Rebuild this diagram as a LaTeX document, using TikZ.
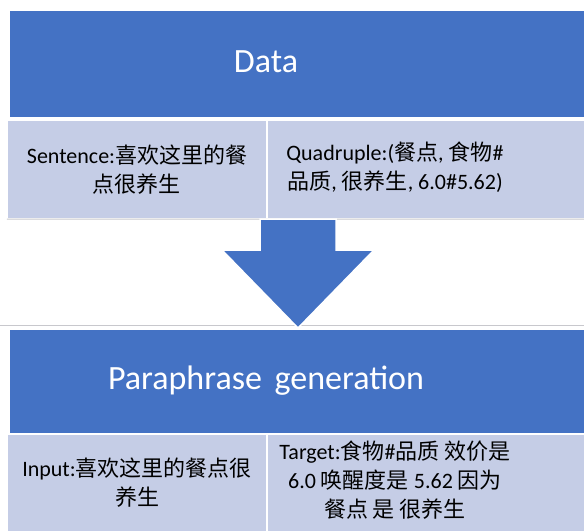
\documentclass[tikz,border=0pt]{standalone}
\usepackage{fontspec}
\setmainfont{Carlito}
\newfontfamily\cjk{Noto Sans CJK SC}
\usepackage{xcolor}
\usepackage{tikz}
\usetikzlibrary{positioning,calc}

\definecolor{headblue}{RGB}{68,114,196}
\definecolor{celllav}{RGB}{197,205,230}
\definecolor{shadowgray}{RGB}{200,200,205}
\newcommand{\zh}[1]{{\cjk #1}}
% text of the table is centred on its full width, the picture cuts it at the right
\newcommand{\wide}[2]{\makebox[#1]{\begin{tabular}{@{}c@{}}#2\end{tabular}}\kern62pt}

\begin{document}
\begin{tikzpicture}[x=1pt, y=-1pt]
  % Define styles
  \tikzstyle{header} = [rectangle, fill=headblue, text=white, inner sep=0pt, minimum width=574pt, minimum height=106pt, font=\fontsize{34}{42}\selectfont]
  \tikzstyle{cell} = [rectangle, fill=celllav, text=black, inner sep=0pt, minimum height=97pt, align=center, font=\fontsize{22}{29}\selectfont]
  \tikzstyle{shadow} = [shadowgray, line width=1pt]
  \tikzstyle{flow} = [fill=headblue, draw=white, line width=1.5pt, line join=miter]

  \useasboundingbox (0,0) rectangle (584,531);

  % Data block
  \node [header] (data) at (297,64) {\wide{512pt}{Data}};
  \node [cell, minimum width=258pt] (sentence) at (137,169.5)
    {Sentence:\zh{喜欢这里的餐}\\\zh{点很养生}};
  \node [cell, minimum width=316pt] (quadruple) at (426,169.5)
    {\wide{254pt}{Quadruple:(\zh{餐点}, \zh{食物}\#\\\zh{品质}, \zh{很养生}, 6.0\#5.62)}};
  \draw [shadow] (sentence.south west) ++(-1,1) -- (quadruple.south east |- 0,219);

  % Paraphrase generation block
  \node [header, minimum height=103pt] (paraphrase) at (297,381.5)
    {\wide{512pt}{Paraphrase\hspace{5pt} generation}};
  \node [cell, minimum width=258pt, minimum height=96pt] (input) at (137,483)
    {Input:\zh{喜欢这里的餐点很}\\\zh{养生}};
  \node [cell, minimum width=316pt, minimum height=96pt] (target) at (426,483)
    {\wide{254pt}{Target:\zh{食物}\#\zh{品质 效价是}\\6.0 \zh{唤醒度是} 5.62 \zh{因为}\\\zh{餐点 是 很养生}}};
  \draw [shadow] (0,325) -- (584,325);

  % Big down arrow
  \coordinate (base) at (298,219);
  \coordinate (tip) at (298,328);
  \draw [flow] (base) -- ++(-38,0) -- ++(0,31) -- ++(-38,0) -- (tip)
    -- ($(base)+(76,31)$) -- ++(-38,0) -- ++(0,-31) -- cycle;

\end{tikzpicture}
\end{document}
